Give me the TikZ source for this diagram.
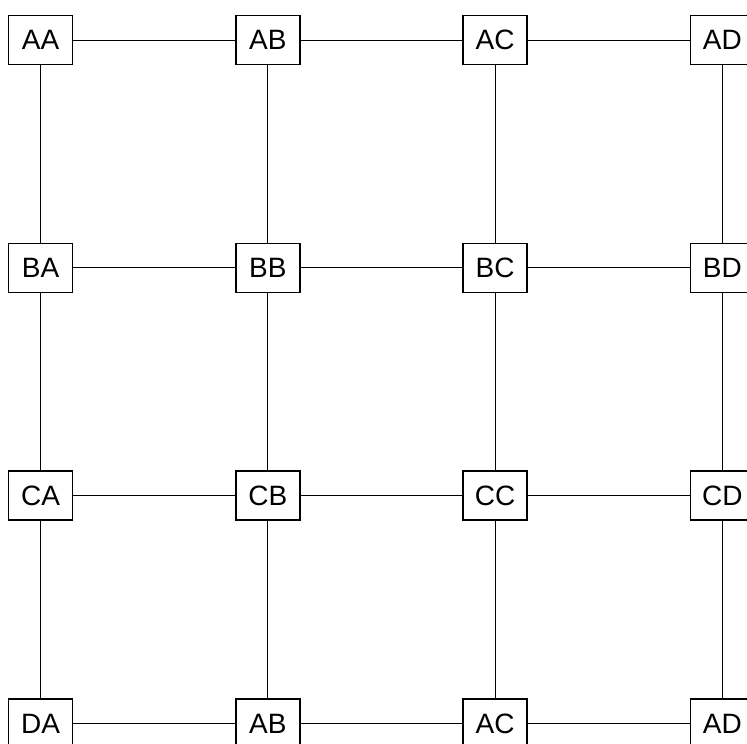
\documentclass[tikz,border=0pt]{standalone}
\usepackage{fontspec}
\setmainfont{Liberation Sans}
\usetikzlibrary{positioning}
\tikzset{
  cell/.style={draw=black, line width=1.5pt, fill=white, minimum width=64pt,
               minimum height=49pt, inner sep=0pt, font=\fontsize{28}{34}\selectfont},
  link/.style={black, line width=1pt},
}

\begin{document}
\begin{tikzpicture}[x=227.3pt, y=227.8pt]
      \useasboundingbox (-40.5pt,40pt) rectangle (706.5pt,-704pt);
      \node[cell] (aa) at (0,0) {AA};
      \node[cell] (ab) at (1,0) {AB};
      \node[cell] (ac) at (2,0) {AC};
      \node[cell] (ad) at (3,0) {AD};
      \node[cell] (ba) at (0,-1) {BA};
      \node[cell] (bb) at (1,-1) {BB};
      \node[cell] (bc) at (2,-1) {BC};
      \node[cell] (bd) at (3,-1) {BD};
      \node[cell] (ca) at (0,-2) {CA};
      \node[cell] (cb) at (1,-2) {CB};
      \node[cell] (cc) at (2,-2) {CC};
      \node[cell] (cd) at (3,-2) {CD};
      \node[cell] (da) at (0,-3) {DA};
      \node[cell] (db) at (1,-3) {AB};
      \node[cell] (dc) at (2,-3) {AC};
      \node[cell] (dd) at (3,-3) {AD};
      % rows
      \draw[link] (aa) -- (ab); \draw[link] (ab) -- (ac); \draw[link] (ac) -- (ad);
      \draw[link] (ba) -- (bb); \draw[link] (bb) -- (bc); \draw[link] (bc) -- (bd);
      \draw[link] (ca) -- (cb); \draw[link] (cb) -- (cc); \draw[link] (cc) -- (cd);
      \draw[link] (da) -- (db); \draw[link] (db) -- (dc); \draw[link] (dc) -- (dd);
      % columns
      \draw[link] (aa) -- (ba); \draw[link] (ba) -- (ca); \draw[link] (ca) -- (da);
      \draw[link] (ab) -- (bb); \draw[link] (bb) -- (cb); \draw[link] (cb) -- (db);
      \draw[link] (ac) -- (bc); \draw[link] (bc) -- (cc); \draw[link] (cc) -- (dc);
      \draw[link] (ad) -- (bd); \draw[link] (bd) -- (cd); \draw[link] (cd) -- (dd);
  \end{tikzpicture}
\end{document}
